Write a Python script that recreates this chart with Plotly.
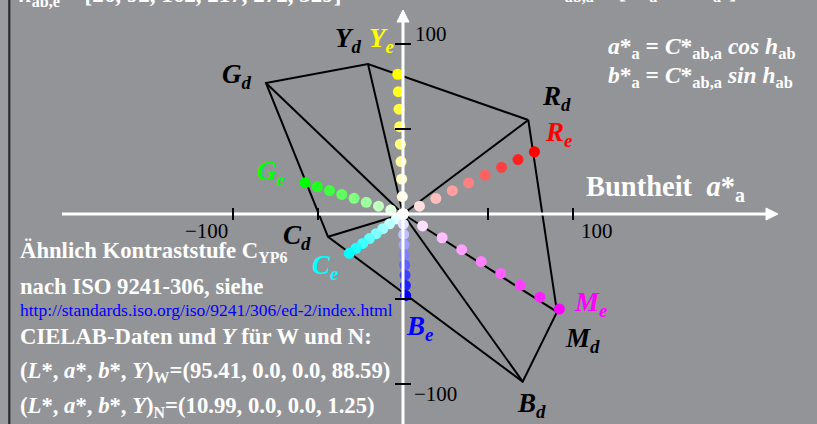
import plotly.graph_objects as go

# ---- data -------------------------------------------------------------
# hexagon vertices of the device colours (d) in CIELAB a*, b*
vertex_names = ["R", "Y", "G", "C", "B", "M"]
a_d = [73.7, -20.6, -80.6, -44.1, 70.4, 90.6]
b_d = [55.3, 88.2, 77.1, -13.4, -98.6, -57.6]

# end points of the elementary hue series (e)
a_e = [77.3, -3.1, -57.6, -31.6, 1.6, 92.0]
b_e = [36.6, 82.2, 18.4, -23.1, -48.0, -55.9]
h_e = [26, 92, 162, 217, 272, 329]

# chroma steps of the contrast series, from white (0) to full colour (1)
steps = [0.0, 0.125, 0.25, 0.375, 0.5, 0.625, 0.75, 0.875, 1.0]

axis_ticks = [-100, -50, 50, 100]
tick_labels = {-100: "\u2212100", 100: "100"}

white_lab = (95.41, 0.0, 0.0, 88.59)
black_lab = (10.99, 0.0, 0.0, 1.25)

# ---- styling ------------------------------------------------------------
W, H = 817, 424
ORIGIN_PX = (403, 214)
SCALE = 1.7  # pixels per CIELAB unit
BG = "#939497"
SERIF = "Liberation Serif"
INFO_SIZE = 22.7
e_rgb = {"R": (255, 0, 0), "Y": (255, 255, 0), "G": (0, 255, 0),
         "C": (0, 255, 255), "B": (0, 0, 255), "M": (255, 0, 255)}

x_range = [-ORIGIN_PX[0] / SCALE, (W - ORIGIN_PX[0]) / SCALE]
y_range = [-(H - ORIGIN_PX[1]) / SCALE, ORIGIN_PX[1] / SCALE]


def px(n):
    """pixel length -> data units"""
    return n / SCALE


def mix(rgb, t):
    r, g, b = (round(255 + (c - 255) * t) for c in rgb)
    return f"rgb({r},{g},{b})"


fig = go.Figure()

# hexagon outline
fig.add_trace(go.Scatter(
    x=a_d + [a_d[0]], y=b_d + [b_d[0]], mode="lines",
    line=dict(color="black", width=2), hoverinfo="skip"))

# spokes from the origin to each vertex
sx, sy = [], []
for a, b in zip(a_d, b_d):
    sx += [0, a, None]
    sy += [0, b, None]
fig.add_trace(go.Scatter(x=sx, y=sy, mode="lines",
                         line=dict(color="black", width=2), hoverinfo="skip"))

# dotted contrast series
for name, a, b in zip(vertex_names, a_e, b_e):
    fig.add_trace(go.Scatter(
        x=[s * a for s in steps], y=[s * b for s in steps], mode="markers",
        marker=dict(size=11, color=[mix(e_rgb[name], s) for s in steps],
                    line=dict(width=0)),
        hoverinfo="skip"))

# white centre point
fig.add_trace(go.Scatter(x=[0], y=[0], mode="markers",
                         marker=dict(size=11, color="white"), hoverinfo="skip"))

shapes = []
# left frame strip
shapes.append(dict(type="rect", xref="paper", yref="paper", x0=0, x1=8.5 / W,
                   y0=0, y1=1, fillcolor="#9b9c9e", line=dict(width=0), layer="below"))
shapes.append(dict(type="line", xref="paper", yref="paper", x0=9.3 / W, x1=9.3 / W,
                   y0=0, y1=1, line=dict(color="#2b2b2b", width=2.2)))

# white axes with arrow heads
x_start, x_end, x_tip = px(62 - ORIGIN_PX[0]), px(766 - ORIGIN_PX[0]), px(778 - ORIGIN_PX[0])
y_top, y_tip = px(ORIGIN_PX[1] - 22), px(ORIGIN_PX[1] - 10)
shapes.append(dict(type="line", x0=x_start, x1=x_end, y0=0, y1=0,
                   line=dict(color="white", width=3)))
shapes.append(dict(type="path",
                   path=f"M {x_end},{px(6)} L {x_tip},0 L {x_end},{-px(6)} Z",
                   fillcolor="white", line=dict(color="white", width=1)))
shapes.append(dict(type="line", x0=0, x1=0, y0=y_range[0] - 5, y1=y_top,
                   line=dict(color="white", width=3)))
shapes.append(dict(type="path",
                   path=f"M {-px(6)},{y_top} L 0,{y_tip} L {px(6)},{y_top} Z",
                   fillcolor="white", line=dict(color="white", width=1)))

# tick marks
for t in axis_ticks:
    shapes.append(dict(type="line", x0=t, x1=t, y0=-px(6), y1=px(6),
                       line=dict(color="black", width=2)))
    shapes.append(dict(type="line", x0=-px(8), x1=px(8), y0=t, y1=t,
                       line=dict(color="black", width=2)))

ann = []


def text(x, y, s, size, color="white", xanchor="left", yanchor="middle",
         xref="paper", yref="paper", **kw):
    ann.append(dict(x=x, y=y, xref=xref, yref=yref, text=s, showarrow=False,
                    xanchor=xanchor, yanchor=yanchor,
                    font=dict(family=SERIF, size=size, color=color), **kw))


def ptext(x_px, y_px, s, size, **kw):
    text(x_px / W, 1 - y_px / H, s, size, **kw)


# tick labels
text(-100, 0, tick_labels[-100], 21, color="black", xanchor="right", yanchor="top",
     xref="x", yref="y", yshift=-3, xshift=-3)
text(100, 0, tick_labels[100], 21, color="black", xanchor="left", yanchor="top",
     xref="x", yref="y", yshift=-3, xshift=6)
text(0, 100, tick_labels[100], 21, color="black", xanchor="left", yanchor="middle",
     xref="x", yref="y", yshift=10, xshift=10)
text(0, -100, tick_labels[-100], 21, color="black", xanchor="left", yanchor="middle",
     xref="x", yref="y", yshift=-10, xshift=9)

# axis title
ptext(584, 188, "<b>Buntheit  <i>a</i>*<sub>a</sub></b>", 28.5)

# formulas
ptext(606, 48, "<b><i>a</i>*<sub>a</sub> = <i>C</i>*<sub>ab,a</sub> <i>cos h</i><sub>ab</sub></b>", 23.5)
ptext(606, 77, "<b><i>b</i>*<sub>a</sub> = <i>C</i>*<sub>ab,a</sub> <i>sin h</i><sub>ab</sub></b>", 23.5)

# titles cut by the top edge
hue_txt = ", ".join(str(h) for h in h_e)
ptext(17, -4, f"<b><i>h</i><sub>ab,e</sub> = [{hue_txt}]</b>", 23)
ptext(536, -10, "<b><i>C</i>*<sub>ab,a</sub> = [<i>a</i>*<sub>a</sub><sup>2</sup> + "
      "<i>b</i>*<sub>a</sub><sup>2</sup>]<sup>1/2</sup></b>", 23)

# info block
ptext(18, 252, "<b>Ähnlich Kontraststufe C<sub>YP6</sub></b>", INFO_SIZE)
ptext(18, 286, "<b>nach ISO 9241-306, siehe</b>", INFO_SIZE)
ptext(18, 310, "http://standards.iso.org/iso/9241/306/ed-2/index.html", 17.5, color="#0000ff")
ptext(18, 336, "<b>CIELAB-Daten und <i>Y</i> für W und N:</b>", INFO_SIZE)


def lab_line(vals, sub):
    nums = ", ".join(f"{v:.2f}" if i in (0, 3) else f"{v:.1f}" for i, v in enumerate(vals))
    return (f"<b>(<i>L</i>*, <i>a</i>*, <i>b</i>*, <i>Y</i>)<sub>{sub}</sub>"
            f"=({nums})</b>")


ptext(18, 372, lab_line(white_lab, "W"), INFO_SIZE)
ptext(18, 407, lab_line(black_lab, "N"), INFO_SIZE)

# vertex and end point labels (pixel offsets from the marks)
d_shift = {"R": (28, 22), "Y": (-19, 24), "G": (-29, 7),
           "C": (-31, 0), "B": (9, -23), "M": (25, -28)}
e_shift = {"R": (24, 18), "Y": (-16, 34), "G": (-34, 10),
           "C": (-24, -14), "B": (14, -32), "M": (31, 5)}
for name, a, b in zip(vertex_names, a_d, b_d):
    dx, dy = d_shift[name]
    text(a, b, f"<b><i>{name}<sub>d</sub></i></b>", 27, color="black",
         xanchor="center", xref="x", yref="y", xshift=dx, yshift=dy)
for name, a, b in zip(vertex_names, a_e, b_e):
    dx, dy = e_shift[name]
    text(a, b, f"<b><i>{name}<sub>e</sub></i></b>", 27, color=mix(e_rgb[name], 1),
         xanchor="center", xref="x", yref="y", xshift=dx, yshift=dy)

fig.update_layout(
    width=W, height=H, autosize=False,
    margin=dict(l=0, r=0, t=0, b=0),
    paper_bgcolor=BG, plot_bgcolor=BG,
    showlegend=False,
    xaxis=dict(range=x_range, visible=False, fixedrange=True),
    yaxis=dict(range=y_range, visible=False, fixedrange=True),
    shapes=shapes, annotations=ann,
)

fig.write_html("out.html", config={"displayModeBar": False})
